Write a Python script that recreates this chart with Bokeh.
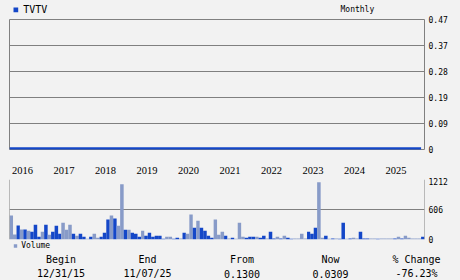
import pandas as pd
from bokeh.plotting import figure
from bokeh.layouts import column
from bokeh.models import (Range1d, LinearAxis, FixedTicker, Span, Label, LabelSet,
                          ColumnDataSource, BoxAnnotation, Grid)
from bokeh.transform import factor_cmap
from bokeh.embed import file_html
from bokeh.resources import INLINE

# ---------------- data ----------------
symbol = "TVTV"
period = "Monthly"
months = pd.date_range("2015-12-01", periods=120, freq="MS")
next_months = months + pd.offsets.MonthBegin(1)

volume = [
    487, 100, 284, 200, 200, 177, 157, 300, 54, 157,
    300, 95, 157, 279, 116, 340, 197, 300, 116, 75,
    116, 54, 14, 54, 116, 34, 54, 136, 402, 483,
    422, 279, 1117, 197, 197, 136, 116, 54, 177, 75,
    136, 54, 75, 75, 14, 54, 54, 14, 34, 20,
    136, 116, 504, 238, 381, 238, 177, 75, 34, 402,
    95, 157, 75, 20, 34, 14, 340, 54, 34, 54,
    54, 54, 34, 75, 20, 157, 20, 54, 20, 75,
    34, 14, 20, 20, 116, 20, 157, 116, 238, 1158,
    34, 75, 14, 20, 20, 14, 340, 14, 20, 34,
    20, 157, 20, 20, 20, 20, 14, 20, 20, 20,
    20, 20, 54, 20, 75, 34, 20, 20, 20, 54,
]
direction = [
    "dn", "dn", "up", "dn", "up", "dn", "up", "up", "up", "dn",
    "up", "dn", "up", "up", "up", "dn", "dn", "dn", "up", "dn",
    "up", "up", "dn", "up", "dn", "dn", "up", "up", "up", "dn",
    "up", "dn", "dn", "up", "dn", "up", "up", "up", "dn", "up",
    "up", "up", "up", "up", "up", "dn", "dn", "up", "up", "dn",
    "up", "dn", "dn", "up", "dn", "up", "up", "up", "up", "dn",
    "dn", "dn", "up", "dn", "up", "dn", "dn", "dn", "up", "up",
    "up", "dn", "up", "up", "dn", "up", "up", "dn", "up", "dn",
    "up", "up", "dn", "dn", "dn", "dn", "up", "up", "up", "dn",
    "dn", "up", "dn", "up", "dn", "up", "up", "dn", "up", "dn",
    "dn", "up", "up", "up", "dn", "dn", "up", "dn", "dn", "dn",
    "dn", "up", "dn", "up", "dn", "dn", "dn", "dn", "dn", "up",
]
price = [
    0.003, 0.003, 0.003, 0.003, 0.003, 0.003, 0.003, 0.003, 0.003, 0.003,
    0.003, 0.003, 0.003, 0.003, 0.003, 0.003, 0.003, 0.003, 0.003, 0.003,
    0.003, 0.003, 0.003, 0.003, 0.003, 0.003, 0.003, 0.003, 0.003, 0.003,
    0.003, 0.003, 0.003, 0.003, 0.003, 0.003, 0.003, 0.003, 0.003, 0.003,
    0.003, 0.003, 0.003, 0.003, 0.003, 0.003, 0.003, 0.003, 0.003, 0.003,
    0.003, 0.003, 0.003, 0.003, 0.003, 0.003, 0.003, 0.003, 0.003, 0.003,
    0.003, 0.003, 0.003, 0.003, 0.003, 0.003, 0.003, 0.003, 0.003, 0.003,
    0.003, 0.003, 0.003, 0.003, 0.003, 0.003, 0.003, 0.003, 0.003, 0.003,
    0.003, 0.003, 0.003, 0.003, 0.003, 0.003, 0.003, 0.003, 0.003, 0.003,
    0.003, 0.003, 0.003, 0.003, 0.003, 0.003, 0.003, 0.003, 0.003, 0.003,
    0.003, 0.003, 0.003, 0.003, 0.003, 0.003, 0.003, 0.003, 0.003, 0.003,
    0.003, 0.003, 0.003, 0.003, 0.003, 0.003, 0.003, 0.003, 0.003, 0.003,
]
price_ticks = [0, 0.094, 0.188, 0.282, 0.376, 0.47]
price_tick_labels = ["0", "0.09", "0.19", "0.28", "0.37", "0.47"]
volume_ticks = [0, 606, 1212]
volume_tick_labels = ["0", "606", "1212"]
years = [2016, 2017, 2018, 2019, 2020, 2021, 2022, 2023, 2024, 2025]
table_headers = ["Begin", "End", "From", "Now", "% Change"]
table_values = ["12/31/15", "11/07/25", "0.1300", "0.0309", "-76.23%"]

# ---------------- style ----------------
BG = "#f2f2f2"
GRID = "#808080"
DARK = "#1447c8"
LIGHT = "#889bc8"
MONO = "DejaVu Sans Mono"
W = 460
FOOT_H = 45

xr = Range1d(months[0], next_months[-1])


def strip(height, x_range=None, fill_alpha=1.0):
    """A figure whose frame fills its strip; texts inside it are in frame screen units."""
    return figure(width=W, height=height, output_backend="svg", toolbar_location=None,
                  x_axis_type=None, y_axis_type=None, min_border=0,
                  min_border_left=0 if x_range is None else 9,
                  min_border_right=0 if x_range is None else 36,
                  min_border_top=0, min_border_bottom=0,
                  x_range=Range1d(0, 1) if x_range is None else x_range,
                  y_range=Range1d(0, 1),
                  background_fill_color=BG, border_fill_color=BG,
                  background_fill_alpha=fill_alpha, border_fill_alpha=fill_alpha,
                  outline_line_color=None)


# ---------------- header strip (page y 0..14, frame aligned at x=9) ----------------
head = strip(14, x_range=xr)
head.add_layout(BoxAnnotation(left=4, right=8.7, bottom=2.3, top=7,
                              left_units="screen", right_units="screen",
                              bottom_units="screen", top_units="screen",
                              fill_color=DARK, fill_alpha=1, line_color=None))
head.add_layout(Label(x=13.7, y=5, x_units="screen", y_units="screen", text=symbol,
                      text_font=MONO, text_font_size="10px", text_baseline="middle",
                      text_color="black"))
head.add_layout(Label(x=331, y=5, x_units="screen", y_units="screen", text=period,
                      text_font=MONO, text_font_size="8px", text_baseline="middle",
                      text_color="black"))

# ---------------- price panel (page y 14..154) ----------------
pa = figure(width=W, height=140, x_range=xr, y_range=Range1d(0, 0.47),
            output_backend="svg", toolbar_location=None,
            x_axis_type=None, y_axis_type=None,
            min_border_left=9, min_border_right=36, min_border_top=5, min_border_bottom=5,
            background_fill_color=BG, border_fill_color=BG, outline_line_color=GRID)
pa.add_layout(Grid(dimension=1, ticker=FixedTicker(ticks=price_ticks), grid_line_color=GRID))
ax = LinearAxis(ticker=FixedTicker(ticks=price_ticks),
                major_label_overrides=dict(zip(price_ticks, price_tick_labels)),
                axis_line_color=None, major_tick_line_color=None, minor_tick_line_color=None,
                major_tick_out=0, major_tick_in=0, major_label_standoff=4,
                major_label_text_font=MONO, major_label_text_font_size="8px",
                major_label_text_color="black")
pa.add_layout(ax, "right")
pa.line(x=months, y=price, line_color=DARK, line_width=3)

# ---------------- year strip (page y 154..177) ----------------
yrs = strip(23, x_range=xr)
year_src = ColumnDataSource(dict(x=[pd.Timestamp(f"{y}-01-01") for y in years],
                                 text=[str(y) for y in years]))
yrs.add_layout(LabelSet(x="x", y=6.7, y_units="screen", text="text", source=year_src,
                        text_font="Liberation Sans", text_font_size="10.5px",
                        text_align="left", text_baseline="middle", x_offset=-1,
                        text_color="black"))

# ---------------- volume panel (page y 177..280; its bottom border holds the table) --------
src = ColumnDataSource(dict(left=months, right=next_months, volume=volume, direction=direction))
pb = figure(width=W, height=103, x_range=xr, y_range=Range1d(0, 1212),
            output_backend="svg", toolbar_location=None,
            x_axis_type=None, y_axis_type=None,
            min_border_left=9, min_border_right=36, min_border_top=2, min_border_bottom=41,
            background_fill_color=BG, border_fill_color=BG, outline_line_color=None)
pb.add_layout(Grid(dimension=1, ticker=FixedTicker(ticks=volume_ticks[1:]), grid_line_color=GRID))
pb.add_layout(Span(location=xr.start, dimension="height", line_color=GRID, line_width=1))
pb.add_layout(Span(location=xr.end, dimension="height", line_color=GRID, line_width=1))
pb.quad(left="left", right="right", bottom=0, top="volume", source=src,
        fill_color=factor_cmap("direction", [DARK, LIGHT], ["up", "dn"]), line_color=None)
bx = LinearAxis(ticker=FixedTicker(ticks=volume_ticks),
                major_label_overrides=dict(zip(volume_ticks, volume_tick_labels)),
                axis_line_color=None, major_tick_line_color=None, minor_tick_line_color=None,
                major_tick_out=0, major_tick_in=0, major_label_standoff=4,
                major_label_text_font=MONO, major_label_text_font_size="8px",
                major_label_text_color="black")
pb.add_layout(bx, "right")

# ---------------- footer overlay (transparent, full width, laid over page y 235..280) ------
foot = strip(FOOT_H, fill_alpha=0.0)
foot.styles = {"margin-top": f"-{FOOT_H}px", "position": "relative"}
foot.add_layout(BoxAnnotation(left=13.3, right=16.7, bottom=32.7, top=36.3,
                              left_units="screen", right_units="screen",
                              bottom_units="screen", top_units="screen",
                              fill_color=LIGHT, fill_alpha=1, line_color=None))
foot.add_layout(Label(x=20.7, y=35, x_units="screen", y_units="screen", text="Volume",
                      text_font=MONO, text_font_size="8px", text_baseline="middle",
                      text_color="black"))
col_x = [60.5, 147, 241.5, 330, 416]
for cx, h, v in zip(col_x, table_headers, table_values):
    foot.add_layout(Label(x=cx, y=21, x_units="screen", y_units="screen", text=h,
                          text_font=MONO, text_font_size="10px", text_align="center",
                          text_baseline="middle", text_color="black"))
    foot.add_layout(Label(x=cx, y=7, x_units="screen", y_units="screen", text=v,
                          text_font=MONO, text_font_size="10px", text_align="center",
                          text_baseline="middle", text_color="black"))

main = column(head, pa, yrs, pb, spacing=0, styles={"background-color": BG})
open("out.html", "w").write(file_html([main, foot], INLINE))
